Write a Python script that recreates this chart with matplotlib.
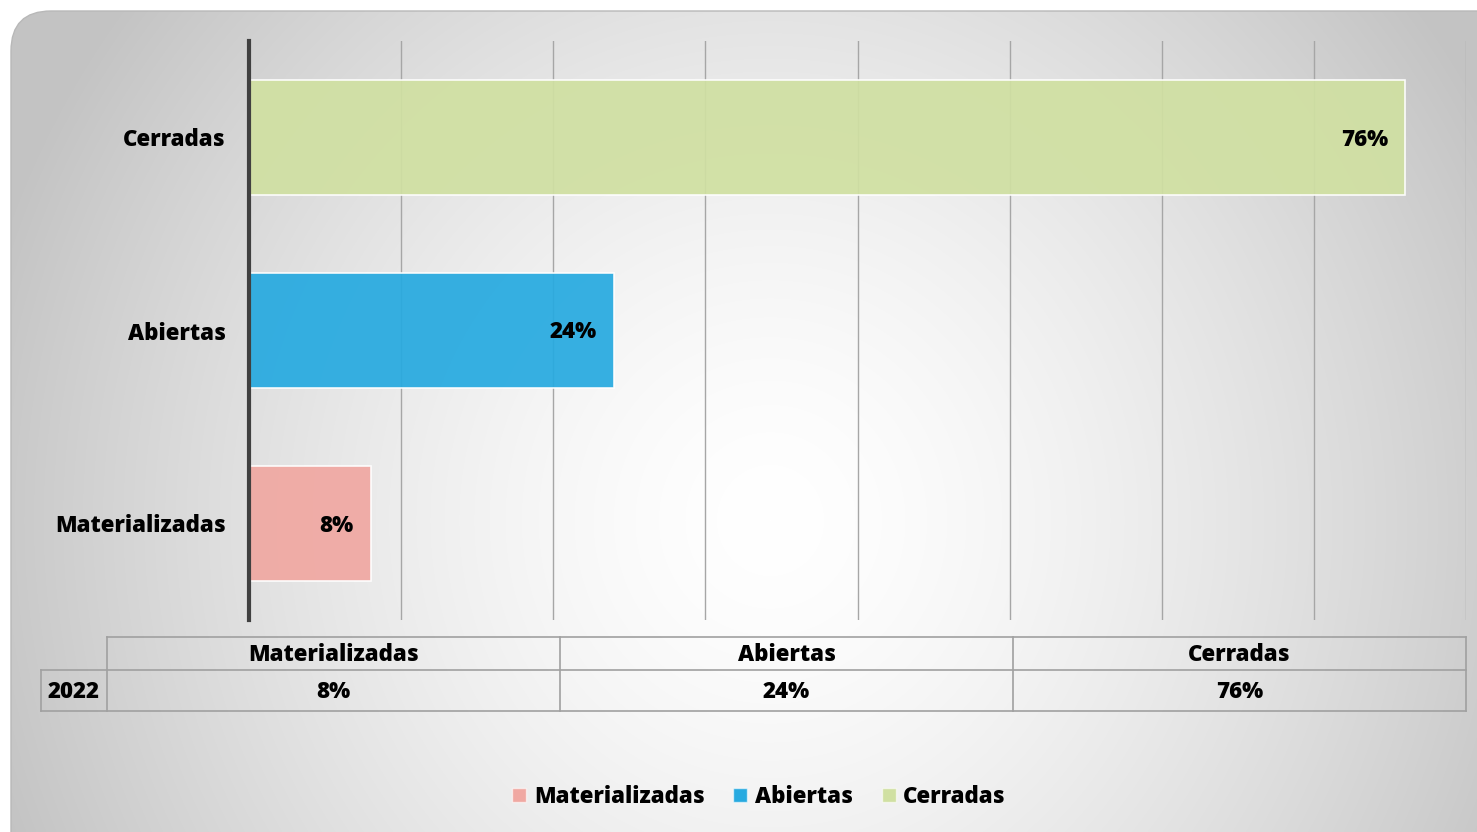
import numpy as np
import matplotlib
matplotlib.use("Agg")
import matplotlib.pyplot as plt
from matplotlib.patches import FancyBboxPatch, Patch
from matplotlib.textpath import TextPath
from matplotlib.font_manager import FontProperties

FONT = ['Open Sans', 'DejaVu Sans']
WEIGHT = 800
plt.rcParams['font.family'] = FONT
plt.rcParams['font.weight'] = WEIGHT

categories = ["Materializadas", "Abiertas", "Cerradas"]
values = [8, 24, 76]
value_labels = ["8%", "24%", "76%"]
row_label = "2022"
colors = ["#F0A8A2", "#27AAE0", "#D0E0A2"]

W, H = 1477, 832
fig = plt.figure(figsize=(W / 100, H / 100), dpi=100)
fig.patch.set_facecolor("white")

# calibrate font size so that "Materializadas" spans ~168 px
_tp = TextPath((0, 0), "Materializadas", size=10, prop=FontProperties(family=FONT, weight=WEIGHT))
_w10 = _tp.get_extents().width
FS = 10 * 168 / (_w10 * 100 / 72)

# background panel with radial gradient
bg = fig.add_axes([0, 0, 1, 1], zorder=-5)
bg.set_xlim(0, W)
bg.set_ylim(H, 0)
bg.axis("off")
yy, xx = np.mgrid[0:H, 0:W]
cx, cy = 770, 520
r = np.sqrt(((xx - cx) / 820.0) ** 2 + ((yy - cy) / 850.0) ** 2)
t = np.clip(r, 0, 1) ** 1.5
c0 = np.array([1.0, 1.0, 1.0])
c1 = np.array([0.765, 0.765, 0.765])
img = c0[None, None, :] * (1 - t[..., None]) + c1[None, None, :] * t[..., None]
im = bg.imshow(img, extent=[0, W, H, 0], aspect="auto", zorder=0)
panel = FancyBboxPatch((11, 11), W + 60, H + 60, boxstyle="round,pad=0,rounding_size=40",
                       facecolor="none", edgecolor="#b8b8b8", linewidth=1, zorder=1)
bg.add_patch(panel)
im.set_clip_path(panel)

# main bar axes
x0, x1 = 249, 1466
y0, y1 = 41, 620
ax = fig.add_axes([x0 / W, 1 - y1 / H, (x1 - x0) / W, (y1 - y0) / H])
ax.set_facecolor("none")
ypos = np.arange(len(categories))
ax.barh(ypos, values, height=0.6, color=colors, alpha=0.93,
        edgecolor=(1, 1, 1, 0.6), linewidth=1.2, zorder=3)
ax.set_xlim(0, 80)
ax.set_ylim(-0.5, 2.5)
ax.set_xticks(np.arange(0, 81, 10))
ax.xaxis.set_ticklabels([])
ax.tick_params(axis="x", length=0)
ax.tick_params(axis="y", length=0, pad=17, labelsize=FS)
ax.set_yticks(ypos)
ax.set_yticklabels(categories, fontweight=WEIGHT)
ax.grid(axis="x", color="#a6a6a6", linewidth=1, zorder=0)
for s in ["top", "right", "bottom"]:
    ax.spines[s].set_visible(False)
ax.spines["left"].set_color("#404040")
ax.spines["left"].set_linewidth(3)
ax.spines["left"].set_zorder(4)
for yv, v, lab in zip(ypos, values, value_labels):
    ax.annotate(lab, xy=(v, yv), xytext=(-17, -2), textcoords="offset pixels",
                ha="right", va="center", fontsize=FS, fontweight=WEIGHT, color="black", zorder=5)

# data table (pixel overlay)
ov = fig.add_axes([0, 0, 1, 1], zorder=2)
ov.set_xlim(0, W)
ov.set_ylim(H, 0)
ov.axis("off")
tab_left, lab_right = 41, 107
col_edges = np.linspace(lab_right, x1, len(categories) + 1)
hy0, hy1, dy1 = 637, 670, 711
lc = "#a0a0a0"
lw = 1.2
ov.plot([lab_right, x1], [hy0, hy0], color=lc, lw=lw)
ov.plot([tab_left, x1], [hy1, hy1], color=lc, lw=lw)
ov.plot([tab_left, x1], [dy1, dy1], color=lc, lw=lw)
ov.plot([tab_left, tab_left], [hy1, dy1], color=lc, lw=lw)
for xe in col_edges:
    ov.plot([xe, xe], [hy0, dy1], color=lc, lw=lw)
for i, (cat, lab) in enumerate(zip(categories, value_labels)):
    xc = (col_edges[i] + col_edges[i + 1]) / 2
    ov.text(xc, (hy0 + hy1) / 2 + 1.5, cat, ha="center", va="center", fontsize=FS, fontweight=WEIGHT)
    ov.text(xc, (hy1 + dy1) / 2 + 2, lab, ha="center", va="center", fontsize=FS, fontweight=WEIGHT)
ov.text((tab_left + lab_right) / 2, (hy1 + dy1) / 2 + 2, row_label, ha="center", va="center",
        fontsize=FS, fontweight=WEIGHT)

# legend
handles = [Patch(facecolor=c, edgecolor=(1, 1, 1, 0.6), label=cat) for c, cat in zip(colors, categories)]
fig.legend(handles=handles, loc="center", bbox_to_anchor=(759 / W, 1 - 797 / H), ncol=3,
           frameon=False, handlelength=0.62, handleheight=0.62, handletextpad=0.35,
           columnspacing=1.3, prop={"weight": WEIGHT, "size": FS, "family": FONT})

fig.savefig("out.png", dpi=100)
